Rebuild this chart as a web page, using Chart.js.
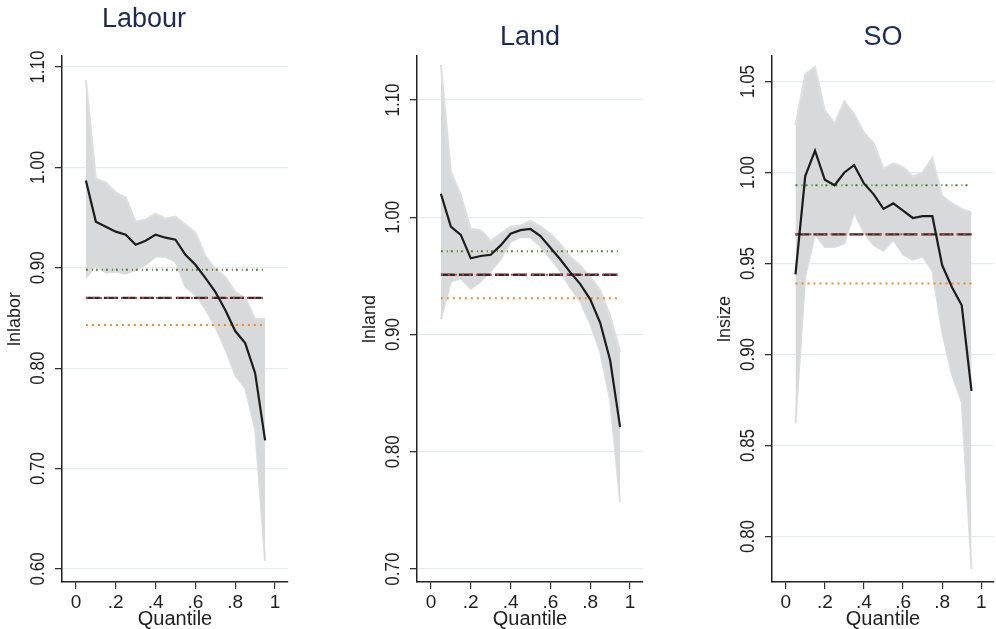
<!DOCTYPE html>
<html>
<head>
<meta charset="utf-8">
<script src="https://cdn.jsdelivr.net/npm/chart.js@4.4.1/dist/chart.umd.min.js"></script>
<style>
    body { margin: 0; background: #fff; width: 996px; height: 629px; overflow: hidden; position: relative; }
    canvas { position: absolute; top: 0; }
</style>
</head>
<body>
<canvas id="labour" width="290" height="629" style="left:0px"></canvas>
<canvas id="land" width="290" height="629" style="left:355px"></canvas>
<canvas id="so" width="286" height="629" style="left:710px"></canvas>
<script>
// Quantile grid (x) and axis ticks
const quantiles = [0.05, 0.10, 0.15, 0.20, 0.25, 0.30, 0.35, 0.40, 0.45, 0.50,
    0.55, 0.60, 0.65, 0.70, 0.75, 0.80, 0.85, 0.90, 0.95];
const refSpan = [0.05, 0.95];
const xTicks = [0, 0.2, 0.4, 0.6, 0.8, 1];
const xTickLabels = ['0', '.2', '.4', '.6', '.8', '1'];

// Labour
const labourCoef = [0.987, 0.946, 0.941, 0.936, 0.933, 0.923, 0.927, 0.933, 0.930, 0.928,
    0.913, 0.903, 0.890, 0.876, 0.858, 0.837, 0.825, 0.795, 0.728];
const labourUpper = [1.087, 0.989, 0.985, 0.975, 0.970, 0.946, 0.948, 0.954, 0.949, 0.951,
    0.943, 0.935, 0.912, 0.899, 0.891, 0.876, 0.870, 0.849, 0.849];
const labourLower = [0.890, 0.902, 0.895, 0.896, 0.894, 0.898, 0.903, 0.911, 0.911, 0.906,
    0.881, 0.873, 0.859, 0.841, 0.819, 0.793, 0.780, 0.739, 0.608];
const labourRefs = [0.898, 0.870, 0.843]; // green, maroon, orange
const labourTicks = [0.6, 0.7, 0.8, 0.9, 1.0, 1.1];

// Land
const landCoef = [1.020, 0.992, 0.985, 0.965, 0.967, 0.968, 0.976, 0.986, 0.989, 0.990,
    0.984, 0.974, 0.964, 0.953, 0.943, 0.930, 0.910, 0.878, 0.821];
const landUpper = [1.130, 1.039, 1.019, 0.990, 0.989, 0.980, 0.986, 0.992, 0.993, 0.997,
    0.992, 0.986, 0.977, 0.966, 0.959, 0.949, 0.938, 0.916, 0.885];
const landLower = [0.913, 0.945, 0.948, 0.939, 0.945, 0.954, 0.964, 0.979, 0.983, 0.983,
    0.975, 0.965, 0.954, 0.940, 0.928, 0.909, 0.885, 0.844, 0.757];
const landRefs = [0.971, 0.951, 0.931];
const landTicks = [0.7, 0.8, 0.9, 1.0, 1.1];

// SO
const soCoef = [0.944, 0.998, 1.012, 0.996, 0.993, 1.000, 1.004, 0.994, 0.988, 0.980,
    0.983, 0.979, 0.975, 0.976, 0.976, 0.949, 0.937, 0.927, 0.880];
const soUpper = [1.026, 1.054, 1.058, 1.034, 1.027, 1.039, 1.032, 1.022, 1.016, 1.002,
    1.005, 1.003, 0.998, 1.000, 1.008, 0.987, 0.983, 0.980, 0.978];
const soLower = [0.862, 0.943, 0.966, 0.959, 0.959, 0.961, 0.978, 0.967, 0.960, 0.957,
    0.963, 0.955, 0.952, 0.954, 0.946, 0.912, 0.889, 0.874, 0.782];
const soRefs = [0.993, 0.966, 0.939];
const soTicks = [0.80, 0.85, 0.90, 0.95, 1.00, 1.05];

const titles = ['Labour', 'Land', 'SO'];
const yTitles = ['lnlabor', 'lnland', 'lnsize'];

const FONT = '"Liberation Sans", Arial, Helvetica, sans-serif';

const toPoints = (ys) => ys.map((y, i) => ({ x: quantiles[i], y }));
const flat = (v) => refSpan.map((x) => ({ x, y: v }));

// Rotated y tick labels, placed from the y scale
const yTickLabels = {
    id: 'yTickLabels',
    afterDraw(chart) {
        const scale = chart.scales.y;
        const ctx = chart.ctx;
        ctx.save();
        ctx.fillStyle = '#1e1e1e';
        ctx.font = '17px ' + FONT;
        ctx.textAlign = 'center';
        ctx.textBaseline = 'middle';
        scale.ticks.forEach((t) => {
            ctx.save();
            ctx.translate(scale.right - 24, scale.getPixelForValue(t.value));
            ctx.rotate(-Math.PI / 2);
            ctx.scale(1, 1.2);
            ctx.fillText(t.value.toFixed(2), 0, 0);
            ctx.restore();
        });
        ctx.restore();
    },
};

function makePanel(id, idx, coef, upper, lower, refs, yTicks, yMin, yMax, titleFull, titlePad) {
    const line = (data, color, dash, order) => ({
        data, borderColor: color, borderWidth: 2, borderDash: dash,
        pointRadius: 0, fill: false, order,
    });
    return new Chart(document.getElementById(id), {
        type: 'line',
        data: {
            datasets: [
                { ...line(toPoints(coef), '#1c1c1c', [], 0), borderWidth: 2.2 },
                line(flat(refs[1]), '#c4444c', [2, 5], 1),
                { ...line(flat(refs[1]), '#332a2c', [14, 4], 1), borderWidth: 2.3 },
                line(flat(refs[0]), '#4f7f2b', [2, 4, 1, 3], 1),
                line(flat(refs[2]), '#ec8a2e', [2, 4], 1),
                {
                    data: toPoints(upper), borderColor: '#dedfe1', borderWidth: 2,
                    backgroundColor: '#d8d9db', pointRadius: 0, fill: '+1', order: 2,
                },
                {
                    data: toPoints(lower), borderColor: '#dedfe1', borderWidth: 2,
                    pointRadius: 0, fill: false, order: 2,
                },
            ],
        },
        plugins: [yTickLabels],
        options: {
            responsive: false,
            animation: false,
            layout: { padding: { left: 0, right: 2, top: 0, bottom: 0 } },
            scales: {
                x: {
                    type: 'linear',
                    min: -0.07,
                    max: 1.065,
                    afterBuildTicks: (s) => { s.ticks = xTicks.map((v) => ({ value: v })); },
                    afterFit: (s) => { s.height = 47; },
                    grid: { color: 'rgba(0,0,0,0)', tickColor: '#333', tickLength: 7, lineWidth: 1.2 },
                    border: { color: '#222', width: 1.5 },
                    ticks: {
                        padding: 2,
                        color: '#1e1e1e',
                        maxRotation: 0,
                        font: { family: FONT, size: 19 },
                        callback: (v) => xTickLabels[xTicks.indexOf(v)],
                    },
                    title: {
                        display: true, text: 'Quantile', color: '#1e1e1e',
                        padding: { top: 0, bottom: 0 },
                        font: { family: FONT, size: 20, lineHeight: 0.96 },
                    },
                },
                y: {
                    min: yMin,
                    max: yMax,
                    afterBuildTicks: (s) => { s.ticks = yTicks.map((v) => ({ value: v })); },
                    afterFit: (s) => { s.width = 62; },
                    grid: { color: '#e4ecf0', tickColor: '#333', tickLength: 7, lineWidth: 1.3 },
                    border: { color: '#222', width: 1.5 },
                    ticks: { display: false },
                    title: {
                        display: true, text: yTitles[idx], color: '#1e1e1e',
                        padding: { top: 4, bottom: 0 },
                        font: { family: FONT, size: 18 },
                    },
                },
            },
            plugins: {
                legend: { display: false },
                tooltip: { enabled: false },
                title: {
                    display: true,
                    text: titles[idx],
                    fullSize: titleFull,
                    color: '#1d2b52',
                    padding: titlePad,
                    font: { family: FONT, size: 27, weight: 'normal' },
                },
            },
        },
    });
}

makePanel('labour', 0, labourCoef, labourUpper, labourLower, labourRefs, labourTicks,
    0.587, 1.111, true, { top: 3.8, bottom: 19.8 });
makePanel('land', 1, landCoef, landUpper, landLower, landRefs, landTicks,
    0.689, 1.1375, false, { top: 21.8, bottom: 1.8 });
makePanel('so', 2, soCoef, soUpper, soLower, soRefs, soTicks,
    0.775, 1.064, false, { top: 21.8, bottom: 1.8 });
</script>
</body>
</html>
